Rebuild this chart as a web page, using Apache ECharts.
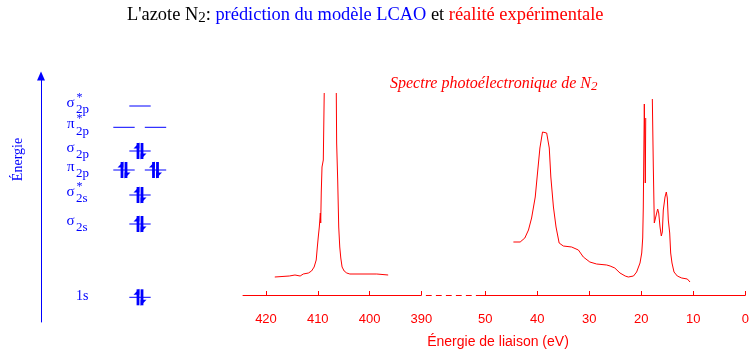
<!DOCTYPE html>
<html><head><meta charset="utf-8">
<script src="https://cdn.jsdelivr.net/npm/echarts@6/dist/echarts.min.js"></script>
<style>html,body{margin:0;padding:0;background:#fff}#c{width:755px;height:356px}</style>
</head><body><div id="c"></div>
<script>
// ---- Photoelectron spectrum of N2 (binding energy in eV, intensity in arbitrary units) ----
// Core (1s) region; null = off scale
const coreEnergy = [418.3, 415.5, 414.4, 414.1, 413.4, 412.8, 411.8, 411.2, 410.7, 410.3, 410.1, 409.9, 409.7, 409.5, 409.43, 409.32, 409.18, 408.99, 408.93, 408.75, 407.6, 406.42, 406.35, 406.15, 405.95, 405.75, 405.55, 405.3, 404.9, 404.4, 403.8, 398.6, 398.4, 396.4];
const coreIntensity = [18, 19, 20, 18, 19, 21, 22, 24, 28, 35, 47, 58, 68, 82, 72, 103, 128, 130, 135, 202, null, 202, 152, 115, 68, 48, 37, 28, 24, 22, 21, 21, 20, 20];
// Valence region
const valenceEnergy = [44.6, 43.3, 42.4, 41.7, 41.1, 40.4, 40.0, 39.5, 39.0, 38.65, 38.2, 37.7, 37.4, 36.9, 36.4, 35.8, 35.0, 33.4, 32.1, 31.15, 29.9, 28.6, 26.65, 26.0, 25.1, 24.1, 23.1, 22.5, 21.5, 20.9, 20.25, 19.92, 19.73, 19.62, 19.42, 19.23, 19.15, 18.5, 17.88, 17.69, 17.5, 17.37, 17.04, 16.85, 16.65, 16.4, 16.15, 15.96, 15.77, 15.44, 15.19, 15.0, 14.81, 14.54, 14.35, 14.1, 13.71, 13.08, 12.23, 11.15, 10.63];
const valenceIntensity = [53, 53, 57, 65, 77, 98, 120, 147, 163, 165, 162, 147, 118, 88, 68, 52, 49, 48, 45, 38, 33, 31, 30, 29, 27, 22, 19, 18, 19, 23, 32, 42, 57, 87, 191, 112, 177, null, 196, 128, 72, 70, 82, 86, 82, 68, 59, 63, 85, 98, 103, 97, 75, 62, 42, 32, 23, 19, 17, 16, 13];
const coreTicks = [420, 410, 400, 390];
const valenceTicks = [50, 40, 30, 20, 10, 0];

// ---- LCAO molecular orbital diagram ----
const orbitalNames = ['σ', 'π', 'σ', 'π', 'σ', 'σ', '1s'];
const orbitalStar = ['*', '*', '', '', '*', '', ''];
const orbitalSub = ['2p', '2p', '2p', '2p', '2s', '2s', ''];
const orbitalLevel = [216, 194.7, 171, 152, 127, 98, 24.7];
const orbitalDegeneracy = [1, 2, 1, 2, 1, 1, 1];
const orbitalElectrons = [0, 0, 2, 4, 2, 2, 2];

const BLUE = '#0000ff', RED = '#ff0000';
const SERIF = '"Liberation Serif", "Times New Roman", serif';
const SANS = '"Liberation Sans", Arial, sans-serif';

function txt(text, x, y, size, align, color) {
  return {
    type: 'text',
    style: {
      text: text, x: x, y: y, fill: color || BLUE,
      font: size + 'px ' + SERIF,
      align: align, verticalAlign: 'middle',
      textAlign: align, textVerticalAlign: 'middle'
    }
  };
}

function renderOrbital(params, api) {
  const i = api.value(0);
  const pt = api.coord([0, api.value(1)]);
  const x0 = pt[0], y = pt[1];
  const ch = [];
  if (orbitalSub[i]) {
    ch.push(txt(orbitalNames[i], x0 + 33.5, y - 3, 15, 'right'));
    if (orbitalStar[i]) ch.push(txt(orbitalStar[i], x0 + 35.5, y - 8, 12, 'left'));
    ch.push(txt(orbitalSub[i], x0 + 35, y + 4, 13, 'left'));
  } else {
    ch.push(txt(orbitalNames[i], x0 + 35, y - 0.5, 14, 'left'));
  }
  const n = orbitalDegeneracy[i];
  const centers = n === 1 ? [99] : [83, 114.5];
  const perBox = orbitalElectrons[i] / n;
  centers.forEach(function (c) {
    const cx = x0 + c;
    ch.push({ type: 'line', shape: { x1: cx - 10.7, y1: y, x2: cx + 10.7, y2: y }, style: { stroke: BLUE, lineWidth: 1 } });
    if (perBox >= 1) {
      ch.push({ type: 'rect', shape: { x: cx - 3.4, y: y - 8, width: 2.8, height: 16 }, style: { fill: BLUE } });
      ch.push({ type: 'polygon', shape: { points: [[cx - 0.6, y - 8.5], [cx - 6.5, y - 2.5], [cx - 0.6, y - 2.5]] }, style: { fill: BLUE } });
    }
    if (perBox >= 2) {
      ch.push({ type: 'rect', shape: { x: cx + 0.6, y: y - 8, width: 2.8, height: 16 }, style: { fill: BLUE } });
      ch.push({ type: 'polygon', shape: { points: [[cx + 0.6, y + 8.5], [cx + 6.5, y + 2.5], [cx + 0.6, y + 2.5]] }, style: { fill: BLUE } });
    }
  });
  return { type: 'group', children: ch };
}

const chart = echarts.init(document.getElementById('c'), null, { renderer: 'canvas' });

const tickAxis = function (min, max, ticks) {
  return {
    type: 'value', inverse: true, min: min, max: max,
    axisLine: { show: true, onZero: false, lineStyle: { color: RED, width: 1 } },
    axisTick: { show: true, inside: true, length: 4, customValues: ticks, lineStyle: { color: RED } },
    axisLabel: { show: true, customValues: ticks, margin: 18, color: RED, fontSize: 13, fontFamily: SANS },
    splitLine: { show: false }
  };
};
const hiddenY = { type: 'value', min: 0, max: 202, show: false };

chart.setOption({
  animation: false,
  backgroundColor: '#fff',
  title: [
    {
      left: 127, top: 4, padding: 0,
      text: "{k|L'azote N}{s|2}{k|: }{b|prédiction du modèle LCAO}{k| et }{r|réalité expérimentale}",
      textStyle: {
        fontWeight: 'normal',
        rich: {
          k: { color: '#000', fontSize: 18.4, fontWeight: 'normal', fontFamily: SERIF, lineHeight: 22 },
          s: { color: '#000', fontSize: 15, fontWeight: 'normal', fontFamily: SERIF, lineHeight: 14, verticalAlign: 'bottom' },
          b: { color: BLUE, fontSize: 18.4, fontWeight: 'normal', fontFamily: SERIF, lineHeight: 22 },
          r: { color: RED, fontSize: 18.4, fontWeight: 'normal', fontFamily: SERIF, lineHeight: 22 }
        }
      }
    },
    {
      left: 390, top: 74, padding: 0,
      text: '{a|Spectre photoélectronique de N}{s|2}',
      textStyle: {
        fontWeight: 'normal',
        rich: {
          a: { color: RED, fontSize: 16, fontStyle: 'italic', fontWeight: 'normal', fontFamily: SERIF, lineHeight: 19 },
          s: { color: RED, fontSize: 13, fontStyle: 'italic', fontWeight: 'normal', fontFamily: SERIF, lineHeight: 12, verticalAlign: 'bottom' }
        }
      }
    },
    {
      left: 498, top: 334, padding: 0, textAlign: 'center',
      text: 'Énergie de liaison (eV)',
      textStyle: { color: RED, fontSize: 14, fontWeight: 'normal', fontFamily: SANS, lineHeight: 16 }
    }
  ],
  graphic: [{
    type: 'text', x: 18, y: 159.5, rotation: Math.PI / 2,
    style: { text: 'Énergie', fill: BLUE, font: '14px ' + SERIF, align: 'center', verticalAlign: 'middle', textAlign: 'center', textVerticalAlign: 'middle' }
  }],
  grid: [
    { left: 41, top: 76, width: 200, height: 246, outerBoundsMode: 'none' },
    { left: 243, top: 93, width: 178.3, height: 202, outerBoundsMode: 'none' },
    { left: 421.3, top: 93, width: 57, height: 202, outerBoundsMode: 'none' },
    { left: 478.3, top: 93, width: 267, height: 202, outerBoundsMode: 'none' }
  ],
  xAxis: [
    { gridIndex: 0, type: 'value', min: 0, max: 200, show: false },
    Object.assign({ gridIndex: 1 }, tickAxis(390, 424.44, coreTicks)),
    {
      gridIndex: 2, type: 'value', min: 0, max: 1,
      axisLine: { show: true, onZero: false, lineStyle: { color: RED, width: 1, type: [5, 5], dashOffset: 5 } },
      axisTick: { show: false }, axisLabel: { show: false }, splitLine: { show: false }
    },
    Object.assign({ gridIndex: 3 }, tickAxis(0, 51.35, valenceTicks))
  ],
  yAxis: [
    {
      gridIndex: 0, type: 'value', min: 0, max: 246,
      axisLine: { show: true, symbol: ['none', 'triangle'], symbolSize: [8, 9], lineStyle: { color: BLUE, width: 1 } },
      axisTick: { show: false }, axisLabel: { show: false }, splitLine: { show: false }
    },
    Object.assign({ gridIndex: 1 }, hiddenY),
    Object.assign({ gridIndex: 2 }, hiddenY),
    Object.assign({ gridIndex: 3 }, hiddenY)
  ],
  series: [
    {
      type: 'custom', xAxisIndex: 0, yAxisIndex: 0, clip: false,
      data: orbitalLevel.map(function (lv, i) { return [i, lv]; }),
      encode: { x: -1, y: 1 },
      renderItem: renderOrbital, silent: true
    },
    {
      type: 'line', xAxisIndex: 1, yAxisIndex: 1, showSymbol: false, symbol: 'none',
      connectNulls: false, lineStyle: { color: RED, width: 1 },
      data: coreEnergy.map(function (e, i) { return [e, coreIntensity[i] === null ? '-' : coreIntensity[i]]; })
    },
    {
      type: 'line', xAxisIndex: 3, yAxisIndex: 3, showSymbol: false, symbol: 'none',
      connectNulls: false, lineStyle: { color: RED, width: 1 },
      data: valenceEnergy.map(function (e, i) { return [e, valenceIntensity[i] === null ? '-' : valenceIntensity[i]]; })
    }
  ]
});
</script></body></html>
